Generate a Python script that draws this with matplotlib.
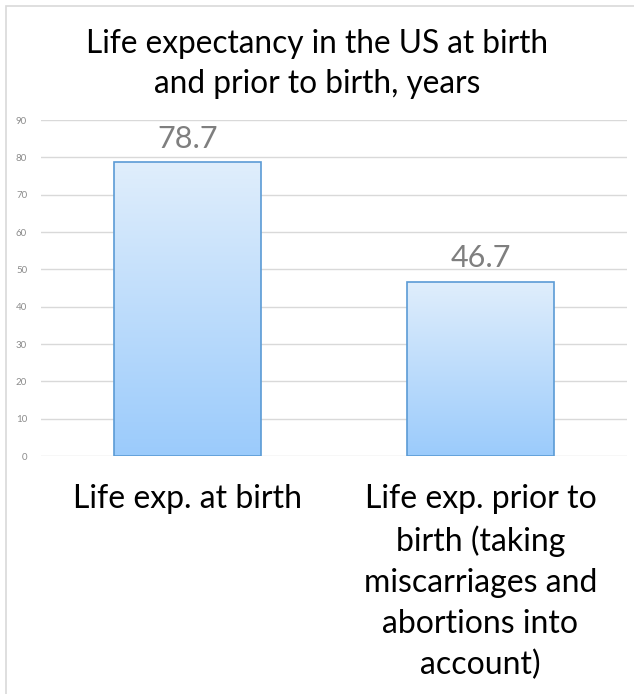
import matplotlib
matplotlib.use("Agg")
import matplotlib.pyplot as plt
import numpy as np
from matplotlib.patches import Rectangle
from matplotlib.colors import LinearSegmentedColormap

categories = ["Life exp. at birth",
              "Life exp. prior to\nbirth (taking\nmiscarriages and\nabortions into\naccount)"]
values = [78.7, 46.7]
yticks = [0, 10, 20, 30, 40, 50, 60, 70, 80, 90]
title = "Life expectancy in the US at birth\nand prior to birth, years"

plt.rcParams['font.family'] = ['Lato', 'DejaVu Sans']

W, H = 634, 694
fig = plt.figure(figsize=(W/100, H/100), dpi=100)
ax = fig.add_axes([41/W, 1-456/H, (627-41)/W, (456-120)/H])

# outer frame
fig.patches.append(Rectangle((6/W, -0.1), 1.2, (694-6)/H + 0.1, transform=fig.transFigure,
                             fill=False, edgecolor='#d9d9d9', linewidth=1.2))

x = np.arange(len(categories))
bars = ax.bar(x, values, width=0.5, facecolor='none', edgecolor='#5b9bd5', linewidth=1.2, zorder=3)
grad = np.linspace(0, 1, 256).reshape(-1, 1)
cmap = LinearSegmentedColormap.from_list('g', ['#9bcbfb', '#e0eefc'])
for b in bars:
    x0, y0 = b.get_x(), b.get_y()
    w, h = b.get_width(), b.get_height()
    im = ax.imshow(grad, extent=[x0, x0+w, y0, y0+h], origin='lower', cmap=cmap,
                   aspect='auto', zorder=2)
    im.set_clip_path(b)
ax.set_xlim(-0.5, len(categories)-0.5)
ax.set_ylim(0, 90)

for xi, v in zip(x, values):
    ax.text(xi, v + 3.9, f"{v}", ha='center', va='baseline', fontsize=22, color='#7f7f7f')

ax.set_yticks(yticks)
ax.set_yticklabels([str(t) for t in yticks], fontsize=7, color='#8c8c8c')
ax.tick_params(axis='y', length=0, pad=10)
ax.grid(axis='y', color='#d9d9d9', linewidth=1)
ax.set_axisbelow(True)
for s in ax.spines.values():
    s.set_visible(False)

ax.set_xticks(x)
ax.set_xticklabels(categories, fontsize=23, color='black', linespacing=1.45, va='top')
ax.tick_params(axis='x', length=0, pad=20)

fig.text(0.5, 1-64/H, title, ha='center', va='center', fontsize=22.8, linespacing=1.38)

fig.savefig("out.png", dpi=100)
